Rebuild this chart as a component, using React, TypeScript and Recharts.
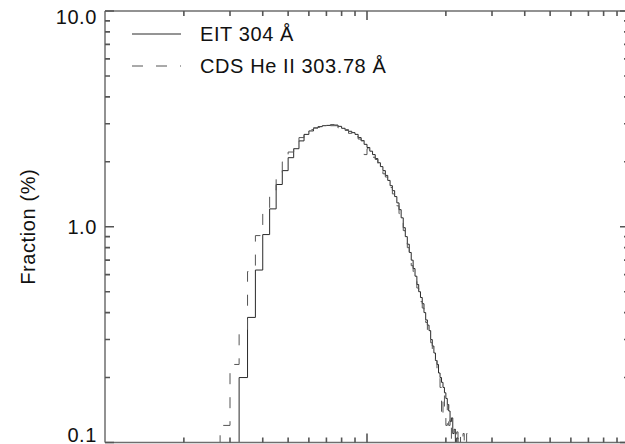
import { LineChart, Line, XAxis, YAxis, Legend, Label } from "recharts";

const FONT = '"Liberation Sans", Arial, Helvetica, sans-serif';
const INK = "#111";
const AXIS = "#6e6e6e";
const TICK = "#555";

// histogram bins are 2.5 wide, listed from the first bin's left edge
const BIN_WIDTH = 2.5;

const EIT_NAME = "EIT 304 Å";
const EIT_FIRST_BIN = 30;
const EIT_FRACTION = [
  0.05, 0.2, 0.38, 0.63, 0.92, 1.21, 1.57, 1.82, 2.09, 2.3, 2.5, 2.68, 2.78, 2.87, 2.91, 2.94,
  2.95, 2.97, 2.96, 2.92, 2.86, 2.8, 2.77, 2.73, 2.68, 2.59, 2.51, 2.41, 2.33, 2.24, 2.16, 2.07,
  1.98, 1.9, 1.82, 1.73, 1.64, 1.55, 1.47, 1.38, 1.29, 1.2, 1.1, 0.99, 0.9, 0.83, 0.76, 0.7,
  0.64, 0.59, 0.54, 0.5, 0.47, 0.44, 0.4, 0.37, 0.35, 0.33, 0.3, 0.28, 0.26, 0.24, 0.23, 0.21,
  0.2, 0.19, 0.18, 0.17, 0.16, 0.15, 0.14, 0.125, 0.13, 0.11, 0.115, 0.1, 0.105, 0.08, 0.05,
];

const CDS_NAME = "CDS He II 303.78 Å";
const CDS_FIRST_BIN = 25;
const CDS_FRACTION = [
  0.05, 0.12, 0.23, 0.32, 0.62, 0.91, 1.17, 1.48, 1.75, 2.0, 2.22, 2.4, 2.59, 2.73, 2.82, 2.87,
  2.89, 2.94, 2.97, 2.94, 2.94, 2.87, 2.93, 2.82, 2.71, 2.79, 2.62, 2.55, 2.5, 2.16, 2.3, 2.24,
  2.1, 2.05, 1.92, 1.88, 1.76, 1.7, 1.6, 1.52, 1.42, 1.36, 1.25, 1.15, 1.06, 0.96, 0.86, 0.8,
  0.74, 0.66, 0.62, 0.57, 0.52, 0.49, 0.45, 0.42, 0.38, 0.36, 0.33, 0.32, 0.29, 0.27, 0.25, 0.24,
  0.22, 0.2, 0.18, 0.13, 0.17, 0.14, 0.12, 0.15, 0.12, 0.13, 0.1, 0.08, 0.115, 0.06, 0.112, 0.07,
  0.11, 0.05, 0.05, 0.11, 0.05, 0.05, 0.11, 0.05,
];

const X_DOMAIN = [10, 1000];
const X_TICKS = [20, 30, 40, 50, 60, 70, 80, 90, 100, 200, 300, 400, 500, 600, 700, 800, 900];
const X_MAJOR = [100];

const Y_DOMAIN = [0.1, 10];
const Y_TICKS = [
  0.1, 0.2, 0.3, 0.4, 0.5, 0.6, 0.7, 0.8, 0.9, 1, 2, 3, 4, 5, 6, 7, 8, 9, 10,
];
const Y_LABELS: Record<string, string> = { "0.1": "0.1", "1": "1.0", "10": "10.0" };
const Y_TITLE = "Fraction (%)";

// layout: the plot runs a little past the right edge of the picture, as in the original
const CHART_W = 625;
const CHART_H = 444;
const MARGIN = { top: 10, right: -5, bottom: 0.5, left: 0 };
const LEFT_AXIS_W = 105;
const RIGHT_AXIS_W = 1;
const PLOT_W = CHART_W - MARGIN.left - MARGIN.right - LEFT_AXIS_W - RIGHT_AXIS_W;

const toBins = (first: number, values: number[]) =>
  values.map((fraction, i) => ({ intensity: first + i * BIN_WIDTH, fraction }));

const SERIES = [
  { name: EIT_NAME, data: toBins(EIT_FIRST_BIN, EIT_FRACTION), color: "#2a2a2a", dash: undefined },
  { name: CDS_NAME, data: toBins(CDS_FIRST_BIN, CDS_FRACTION), color: "#555", dash: "11 13" },
];

const textStyle = { fontFamily: FONT, fontSize: 20, letterSpacing: 0.6 };

function XTick(props: any) {
  const { x, y, payload, top } = props;
  const len = X_MAJOR.includes(payload.value) ? 9 : 5;
  const y2 = top ? y + len : y - len;
  return <path d={`M${x},${y}V${y2}`} stroke={TICK} strokeWidth={1.6} fill="none" />;
}

// right axis draws the inward tick marks on both sides of the frame
function FrameYTick(props: any) {
  const { x, y, payload } = props;
  const len = Y_LABELS[String(payload.value)] ? 9 : 5;
  const left = x - PLOT_W;
  return (
    <path
      d={`M${x},${y}H${x - len}M${left},${y}H${left + len}`}
      stroke={TICK}
      strokeWidth={1.6}
      fill="none"
    />
  );
}

function YLabel(props: any) {
  const { x, y, payload } = props;
  const label = Y_LABELS[String(payload.value)];
  if (!label) return <g />;
  // IDL keeps the end labels inside the axis range
  const dy = payload.value === 10 ? 6 : payload.value === 0.1 ? -8 : 0;
  return (
    <text x={x - 8} y={y + dy} textAnchor="end" dominantBaseline="central" fill={INK} style={textStyle}>
      {label}
    </text>
  );
}

function YTitle({ viewBox }: any) {
  const cx = viewBox.x + 28;
  const cy = viewBox.y + viewBox.height / 2;
  return (
    <text x={cx} y={cy} transform={`rotate(-90, ${cx}, ${cy})`} textAnchor="middle"
      dominantBaseline="central" fill={INK} style={textStyle}>
      {Y_TITLE}
    </text>
  );
}

function LegendBox() {
  return (
    <div style={{ ...textStyle, color: INK }}>
      {SERIES.map((s) => (
        <div key={s.name} style={{ display: "flex", alignItems: "center", height: 32 }}>
          <svg width={49} height={4} style={{ display: "block" }}>
            <line x1={0} y1={2} x2={49} y2={2} stroke={s.color} strokeWidth={1} strokeDasharray={s.dash} />
          </svg>
          <span style={{ marginLeft: 19, whiteSpace: "nowrap" }}>{s.name}</span>
        </div>
      ))}
    </div>
  );
}

const axisLine = { stroke: AXIS, strokeWidth: 1.5 };

export default function App() {
  return (
    <div style={{ width: CHART_W, height: CHART_H, background: "#fff" }}>
      <style>{"body{margin:0}"}</style>
      <LineChart width={CHART_W} height={CHART_H} margin={MARGIN}>
        <XAxis dataKey="intensity" type="number" scale="log" domain={X_DOMAIN} allowDataOverflow
          ticks={X_TICKS} interval={0} height={1} tickSize={0} tickMargin={0}
          tick={(p: any) => <XTick {...p} />} axisLine={axisLine} tickLine={false} />
        <XAxis xAxisId="top" orientation="top" dataKey="intensity" type="number" scale="log"
          domain={X_DOMAIN} allowDataOverflow ticks={X_TICKS} interval={0} height={1}
          tickSize={0} tickMargin={0} tick={(p: any) => <XTick {...p} top />}
          axisLine={axisLine} tickLine={false} />
        <YAxis type="number" scale="log" domain={Y_DOMAIN} allowDataOverflow ticks={Y_TICKS}
          interval={0} width={LEFT_AXIS_W} tickSize={0} tickMargin={0}
          tick={(p: any) => <YLabel {...p} />} axisLine={axisLine} tickLine={false}>
          <Label content={<YTitle />} />
        </YAxis>
        <YAxis yAxisId="right" orientation="right" type="number" scale="log" domain={Y_DOMAIN}
          allowDataOverflow ticks={Y_TICKS} interval={0} width={RIGHT_AXIS_W} tickSize={0}
          tickMargin={0} tick={(p: any) => <FrameYTick {...p} />} axisLine={axisLine}
          tickLine={false} />
        <Legend layout="horizontal" verticalAlign="middle" align="center" content={<LegendBox />}
          wrapperStyle={{ left: 132, top: 18, width: "auto", height: "auto" }} />
        {SERIES.map((s) => (
          <Line key={s.name} name={s.name} data={s.data} dataKey="fraction" type="stepAfter"
            stroke={s.color} strokeWidth={1} strokeDasharray={s.dash} dot={false}
            activeDot={false} isAnimationActive={false} />
        ))}
      </LineChart>
    </div>
  );
}
